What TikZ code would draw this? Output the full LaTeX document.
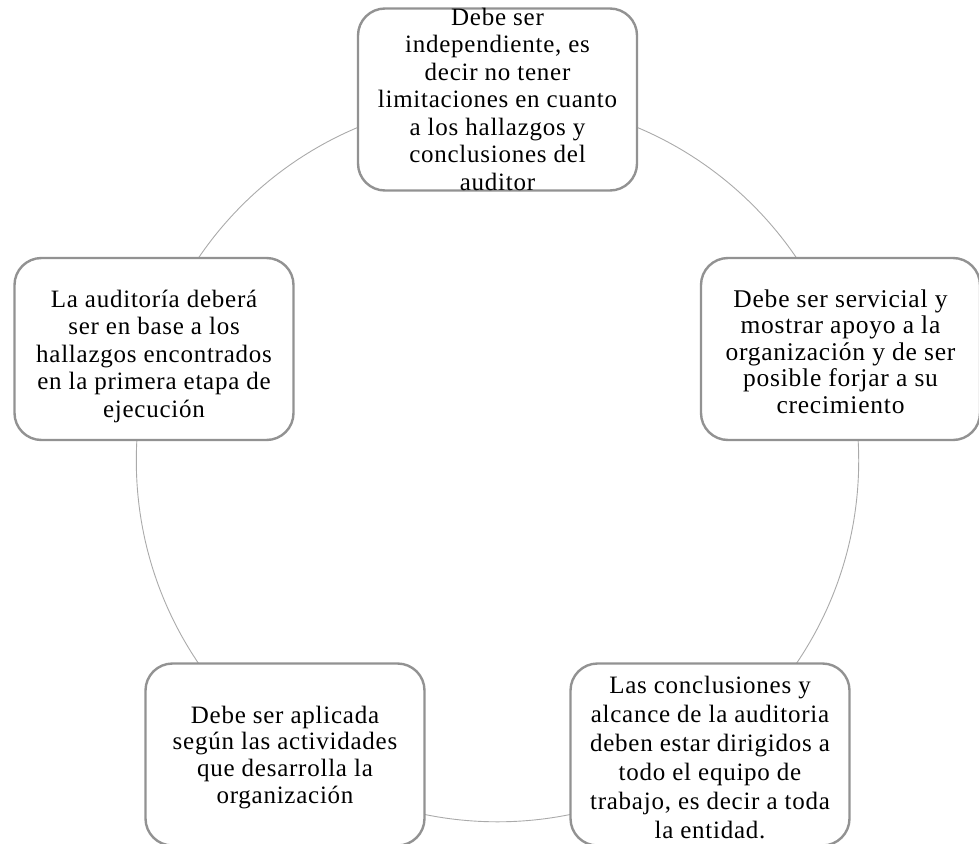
\documentclass[tikz,border=0pt]{standalone}
\usepackage{fontspec}
\setmainfont{Liberation Serif}[LetterSpace=3]
\definecolor{boxline}{RGB}{146,146,146}
\definecolor{ringline}{RGB}{170,170,170}
\tikzset{
  stagebox/.style={draw=boxline, line width=2.4pt, fill=white,
    rounded corners=27pt, minimum width=279pt, minimum height=182pt,
    inner sep=0pt},
  stagetext/.style={align=center, inner sep=0pt, text=black},
  ring/.style={draw=ringline, line width=0.9pt}
}
\begin{document}
\begin{tikzpicture}[x=1pt, y=-1pt]
\useasboundingbox (0,0) rectangle (979,843);
% ring through the five stages
\coordinate (ctr) at (497.5,460.6);
\draw[ring] (ctr) circle (361.2pt);
% stage boxes
\node[stagebox] (b1) at (497.5,99.5) {};
\node[stagebox] (b2) at (840.5,349) {};
\node[stagebox] (b3) at (710,754.5) {};
\node[stagebox] (b4) at (285,754.5) {};
\node[stagebox] (b5) at (154,349) {};
% stage texts
\node[stagetext, font=\fontsize{25}{27.5}\selectfont] (t1) at (497.5,99.2)
  {Debe ser\\independiente, es\\decir no tener\\limitaciones en cuanto\\a los hallazgos y\\conclusiones del\\auditor};
\node[stagetext, font=\fontsize{25.5}{26.5}\selectfont] (t2) at (840.5,351.5)
  {Debe ser servicial y\\mostrar apoyo a la\\organización y de ser\\posible forjar a su\\crecimiento};
\node[stagetext, font=\fontsize{25}{29}\selectfont] (t3) at (710,757)
  {Las conclusiones y\\alcance de la auditoria\\deben estar dirigidos a\\todo el equipo de\\trabajo, es decir a toda\\la entidad.};
\node[stagetext, font=\fontsize{25}{26.7}\selectfont] (t4) at (285,757.3)
  {Debe ser aplicada\\según las actividades\\que desarrolla la\\organización};
\node[stagetext, font=\fontsize{25}{27.5}\selectfont] (t5) at (154,356)
  {La auditoría deberá\\ser en base a los\\hallazgos encontrados\\en la primera etapa de\\ejecución};
\end{tikzpicture}
\end{document}
